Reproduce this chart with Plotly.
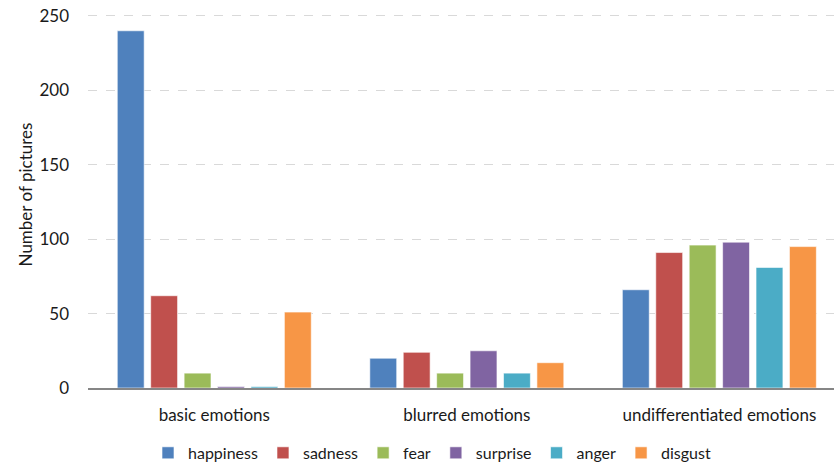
import plotly.graph_objects as go

categories = ["basic emotions", "blurred emotions", "undifferentiated emotions"]

happiness = [240, 20, 66]
sadness = [62, 24, 91]
fear = [10, 10, 96]
surprise = [1, 25, 98]
anger = [1, 10, 81]
disgust = [51, 17, 95]

series = [
    ("happiness", happiness, "#4F81BD"),
    ("sadness", sadness, "#C0504D"),
    ("fear", fear, "#9BBB59"),
    ("surprise", surprise, "#8064A2"),
    ("anger", anger, "#4BACC6"),
    ("disgust", disgust, "#F79646"),
]

FONT = "Lato"
FS = 17

fig = go.Figure()
for name, vals, color in series:
    fig.add_trace(go.Bar(
        x=categories, y=vals, name=name,
        marker=dict(color=color, line=dict(color="rgba(255,255,255,0.6)", width=1)),
    ))

fig.update_layout(
    width=834, height=465,
    margin=dict(l=88, r=0, t=1, b=77),
    paper_bgcolor="white", plot_bgcolor="white",
    font=dict(family=FONT, size=FS, color="#1a1a1a"),
    barmode="group", bargap=0.206, bargroupgap=0.195,
    showlegend=True,
    legend=dict(orientation="h", x=0.518, xref="container", xanchor="center",
                y=0.026, yref="container", yanchor="middle",
                font=dict(size=16), itemwidth=30, traceorder="normal"),
    xaxis=dict(range=[-0.5, 2.454], showline=True, linecolor="#868686", linewidth=1.5,
               ticks="", tickfont=dict(size=FS), ticklabelstandoff=11, automargin=False),
    yaxis=dict(range=[0, 260], tickvals=[0, 50, 100, 150, 200, 250],
               showgrid=True, gridcolor="#D9D9D9", griddash="dash", gridwidth=1,
               zeroline=False, showline=False, ticklabelstandoff=18,
               tickfont=dict(size=FS), automargin=False,
               title=dict(text="Number of pictures", font=dict(size=FS), standoff=2)),
)

fig.write_html("out.html")
